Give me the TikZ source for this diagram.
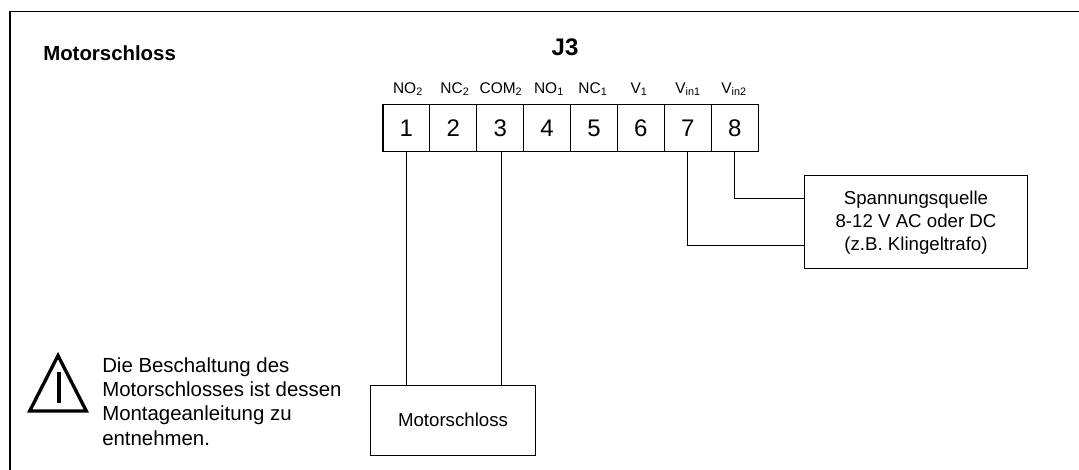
\documentclass[tikz,border=0pt]{standalone}
\usepackage{fontspec}
\setmainfont{Liberation Sans}
\tikzset{
  pinbox/.style={draw,line width=0.9pt,minimum width=35.2pt,minimum height=35.5pt,inner sep=0pt,font=\fontsize{18}{20}\selectfont},
  pinlabel/.style={inner sep=0pt,font=\fontsize{11.6}{14}\selectfont},
  devbox/.style={draw,line width=0.9pt,inner sep=0pt,align=center,font=\fontsize{14}{17.5}\selectfont},
  wire/.style={line width=0.9pt}
}
\begin{document}
\begin{tikzpicture}[x=0.75pt,y=-0.75pt]
  \useasboundingbox (0,0) rectangle (1079,470);
  \draw[line width=0.9pt] (10,470) -- (10,11.7) -- (1079,11.7);
  \node[anchor=west,inner sep=0pt,font=\bfseries\fontsize{15.3}{18}\selectfont] (title) at (43,53) {Motorschloss};
  \node[inner sep=0pt,font=\bfseries\fontsize{18}{21}\selectfont] (jthree) at (565,47) {J3};
  % terminals
  \foreach \n/\lab/\xlab in {1/NO\textsubscript{2}/408,2/NC\textsubscript{2}/455,3/COM\textsubscript{2}/501,4/NO\textsubscript{1}/549,5/NC\textsubscript{1}/593,6/V\textsubscript{1}/639,7/V\textsubscript{in1}/688,8/V\textsubscript{in2}/734}{
    \node[pinbox] (pin\n) at ({406.4+(\n-1)*46.9},128) {\n};
    \node[pinlabel] (lab\n) at (\xlab,89) {\lab};
  }
  \node[devbox,minimum width=167.5pt,minimum height=69.7pt,text depth=1.5pt] (quelle) at (916,221.8) {Spannungsquelle\\8-12 V AC oder DC\\(z.B. Klingeltrafo)};
  \node[devbox,minimum width=123.5pt,minimum height=52.5pt] (schloss) at (453,420.3) {Motorschloss};
  \draw[wire] (pin1.south) -- (pin1.south |- schloss.north);
  \draw[wire] ([xshift=1.2pt]pin3.south) -- ([xshift=1.2pt]pin3.south |- schloss.north);
  \draw[wire] (pin7.south) |- ([yshift=-17.5pt]quelle.west);
  \draw[wire] (pin8.south) |- ([yshift=17.5pt]quelle.west);
  % warning
  \coordinate (warna) at (58,355.6);
  \coordinate (warnb) at (29.7,411);
  \coordinate (warnc) at (86.3,411);
  \draw[line width=2.5pt,miter limit=10] (warna) -- (warnb) -- (warnc) -- cycle;
  \draw[line width=3pt] (58.7,371.7) -- (58.7,403);
  \node[anchor=north west,inner sep=0pt,align=left,font=\fontsize{15.3}{18.3}\selectfont] (hinweis) at (102,357) {Die Beschaltung des\\Motorschlosses ist dessen\\Montageanleitung zu\\entnehmen.};
\end{tikzpicture}
\end{document}
